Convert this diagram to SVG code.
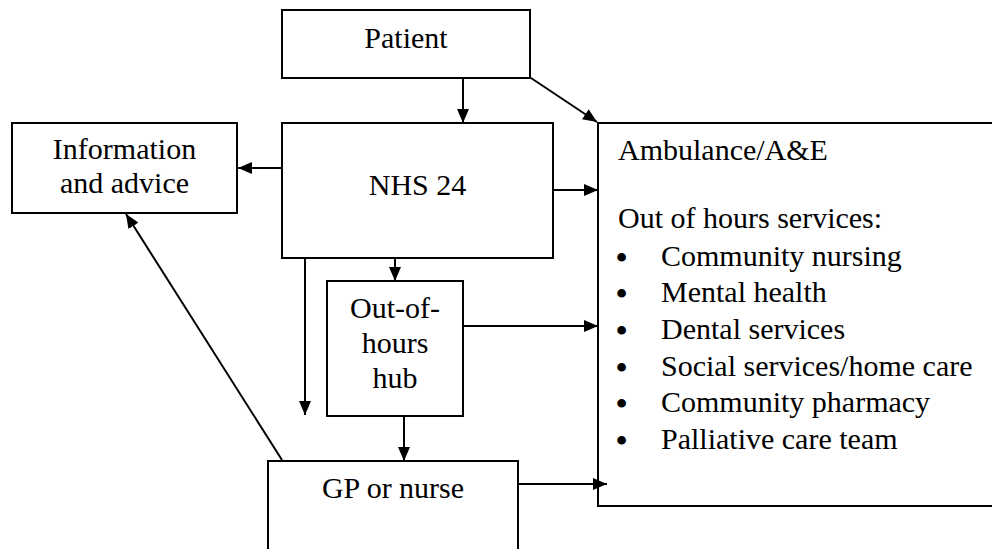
<svg xmlns="http://www.w3.org/2000/svg" width="992" height="549" viewBox="0 0 992 549">
<defs>
<style>
.box{fill:#fff;stroke:#000;stroke-width:2}
.t{font-family:"Liberation Serif","Times New Roman","DejaVu Serif",serif;font-size:30px;fill:#000}
.c{text-anchor:middle}
.b{font-weight:bold;font-size:32px}
.ln{stroke:#000;stroke-width:2;fill:none;marker-end:url(#ah)}
</style>
<marker id="ah" viewBox="0 0 14 12" refX="14" refY="6" markerWidth="14" markerHeight="12" markerUnits="userSpaceOnUse" orient="auto">
<path d="M0,0 L14,6 L0,12 Z" fill="#000"/>
</marker>
</defs>
<rect width="992" height="549" fill="#fff"/>
<g id="patient">
<rect class="box" x="282" y="10" width="248" height="68"/>
<text class="t c" x="406" y="48">Patient</text>
</g>
<g id="nhs24">
<rect class="box" x="282" y="123" width="271" height="135"/>
<text class="t c" x="417.5" y="195">NHS 24</text>
</g>
<g id="info">
<rect class="box" x="12" y="123" width="225" height="90"/>
<text class="t c" x="124.5" y="159">Information</text>
<text class="t c" x="124.5" y="193">and advice</text>
</g>
<g id="hub">
<rect class="box" x="327" y="281" width="136" height="135"/>
<text class="t c" x="395" y="318">Out-of-</text>
<text class="t c" x="395" y="353">hours</text>
<text class="t c" x="395" y="388">hub</text>
</g>
<g id="gp">
<rect class="box" x="268" y="461" width="250" height="100"/>
<text class="t c" x="393" y="498">GP or nurse</text>
</g>
<g id="ambulance">
<rect class="box" x="598" y="123" width="410" height="383"/>
<text class="t" x="618" y="160">Ambulance/A&amp;E</text>
<text class="t" x="618" y="228">Out of hours services:</text>
<g class="t">
<text class="b" x="616" y="268">•</text><text x="661" y="266">Community nursing</text>
<text class="b" x="616" y="304">•</text><text x="661" y="302">Mental health</text>
<text class="b" x="616" y="341">•</text><text x="661" y="339">Dental services</text>
<text class="b" x="616" y="378">•</text><text x="661" y="376">Social services/home care</text>
<text class="b" x="616" y="414">•</text><text x="661" y="412">Community pharmacy</text>
<text class="b" x="616" y="451">•</text><text x="661" y="449">Palliative care team</text>
</g>
</g>
<g id="connectors">
<line class="ln" x1="463" y1="78" x2="463" y2="123"/>
<line class="ln" x1="531" y1="78" x2="597" y2="122"/>
<line class="ln" x1="282" y1="168" x2="238" y2="168"/>
<line class="ln" x1="553" y1="190" x2="598" y2="190"/>
<line class="ln" x1="395" y1="258" x2="395" y2="281"/>
<line class="ln" x1="305" y1="258" x2="305" y2="415"/>
<line class="ln" x1="463" y1="326" x2="598" y2="326"/>
<line class="ln" x1="404" y1="416" x2="404" y2="461"/>
<line class="ln" x1="518" y1="484" x2="607" y2="484"/>
<line class="ln" x1="282" y1="460" x2="126" y2="214"/>
</g>
</svg>
